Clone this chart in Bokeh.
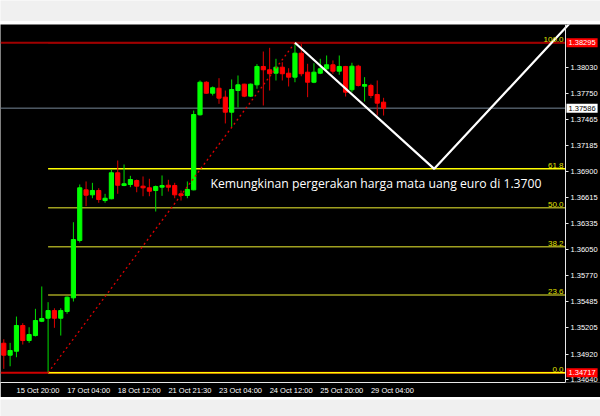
from bokeh.plotting import figure
from bokeh.models import (FixedTicker, Range1d, Label, LinearAxis, PrintfTickFormatter, ColumnDataSource)
from bokeh.layouts import column
from bokeh.embed import file_html
from bokeh.resources import INLINE

# ---------------- data (EURUSD H4) ----------------
opens = [1.35037, 1.34907, 1.34950, 1.35229, 1.35066, 1.35120, 1.35275, 1.35308, 1.35391, 1.35308,
         1.35381, 1.35529, 1.36151, 1.36700, 1.36646, 1.36693, 1.36584, 1.36603, 1.36885, 1.36747,
         1.36758, 1.36801, 1.36740, 1.36722, 1.36693, 1.36729, 1.36750, 1.36747, 1.36657, 1.36639,
         1.36700, 1.37514, 1.37867, 1.37748, 1.37802, 1.37705, 1.37542, 1.37777, 1.37846, 1.37716,
         1.37839, 1.38038, 1.38002, 1.37965, 1.38030, 1.37965, 1.37922, 1.38182, 1.37976, 1.37867,
         1.37965, 1.38013, 1.38056, 1.37987, 1.38038, 1.37785, 1.38041, 1.37824, 1.37832, 1.37734,
         1.37651]
highs = [1.35080, 1.35041, 1.35326, 1.35254, 1.35210, 1.35410, 1.35652, 1.35482, 1.35416, 1.35416,
         1.35543, 1.36349, 1.36758, 1.36791, 1.36776, 1.36718, 1.36657, 1.36921, 1.37018, 1.36975,
         1.36852, 1.36812, 1.36845, 1.36820, 1.36747, 1.36856, 1.36809, 1.36776, 1.36693, 1.36791,
         1.37560, 1.37886, 1.37878, 1.37821, 1.37911, 1.37777, 1.37897, 1.37940, 1.37850, 1.37853,
         1.38063, 1.38200, 1.38240, 1.38121, 1.38084, 1.38019, 1.38295, 1.38284, 1.38067, 1.38073,
         1.38121, 1.38157, 1.38103, 1.38157, 1.38044, 1.38078, 1.38056, 1.37922, 1.37850, 1.37886,
         1.37698]
lows = [1.34759, 1.34787, 1.34885, 1.35023, 1.35041, 1.35110, 1.35266, 1.34717, 1.35204, 1.35120,
        1.35356, 1.35489, 1.36129, 1.36523, 1.36609, 1.36560, 1.36560, 1.36598, 1.36657, 1.36740,
        1.36729, 1.36674, 1.36631, 1.36631, 1.36465, 1.36635, 1.36682, 1.36609, 1.36584, 1.36609,
        1.36695, 1.37506, 1.37742, 1.37723, 1.37633, 1.37420, 1.37382, 1.37593, 1.37705, 1.37707,
        1.37796, 1.37615, 1.37777, 1.37886, 1.37886, 1.37821, 1.37867, 1.37932, 1.37705, 1.37857,
        1.37955, 1.37987, 1.37959, 1.37948, 1.37712, 1.37759, 1.37821, 1.37658, 1.37694, 1.37506,
        1.37506]
closes = [1.34907, 1.34958, 1.35229, 1.35066, 1.35131, 1.35283, 1.35305, 1.35391, 1.35308, 1.35391,
          1.35536, 1.36161, 1.36722, 1.36642, 1.36693, 1.36595, 1.36609, 1.36885, 1.36750, 1.36766,
          1.36812, 1.36740, 1.36722, 1.36685, 1.36736, 1.36747, 1.36729, 1.36646, 1.36639, 1.36704,
          1.37517, 1.37867, 1.37748, 1.37807, 1.37694, 1.37542, 1.37788, 1.37839, 1.37716, 1.37846,
          1.38038, 1.38002, 1.37959, 1.38030, 1.37959, 1.37922, 1.38182, 1.37959, 1.37867, 1.37976,
          1.38013, 1.38056, 1.37987, 1.38038, 1.37759, 1.38041, 1.37832, 1.37842, 1.37723, 1.37640,
          1.37586]

time_tick_bars = [2, 10, 18, 26, 34, 42, 50, 58]
time_tick_labels = ["15 Oct 20:00", "17 Oct 04:00", "18 Oct 12:00", "21 Oct 21:30",
                    "23 Oct 04:00", "24 Oct 12:00", "25 Oct 20:00", "29 Oct 04:00"]
price_ticks = [1.34640, 1.34920, 1.35205, 1.35485, 1.35770, 1.36050, 1.36335,
               1.36615, 1.36900, 1.37185, 1.37465, 1.37750, 1.38030]

fib_names = ["0.0", "23.6", "38.2", "50.0", "61.8", "100.0"]
fib_prices = [1.34717, 1.35561, 1.36084, 1.36506, 1.36928, 1.38295]
fib_anchor_bar = 7

trend_bars = [7, 46]
trend_prices = [1.34717, 1.38295]

proj_bars = [46, 68, 90]
proj_prices = [1.38295, 1.36928, 1.38550]

hline_high = 1.38295
hline_low = 1.34717
bid_price = 1.37586

note_text = "Kemungkinan pergerakan harga mata uang euro di 1.3700"

# ---------------- main chart ----------------
X0, X1 = -0.52, 94.27          # frame covers the whole window width
X_AXIS = 88.74                 # where the price scale sits (MT4 style, inside the window)
Y0, Y1 = 1.34611, 1.38493
AXIS_FONT = "Liberation Sans"
AXIS_COLOR = "#e8e8e8"

p = figure(width=600, height=373, x_range=Range1d(X0, X1), y_range=Range1d(Y0, Y1),
           output_backend="svg", toolbar_location=None, y_axis_location=None,
           background_fill_color="black", border_fill_color="black",
           min_border_left=0, min_border_top=0, min_border_right=0, min_border_bottom=15)
p.outline_line_color = None
for g in p.grid:
    g.visible = False

# price axis
yax = LinearAxis(fixed_location=X_AXIS, ticker=FixedTicker(ticks=price_ticks),
                 formatter=PrintfTickFormatter(format="%.5f"))
p.add_layout(yax, "right")

# time axis (MT4 puts time labels to the right of their bar: centre them half a label further)
label_shift = 3.4
x_label_pos = [b + label_shift for b in time_tick_bars]
p.xaxis.ticker = FixedTicker(ticks=x_label_pos)
p.xaxis.major_label_overrides = {x: l for x, l in zip(x_label_pos, time_tick_labels)}
p.xaxis.bounds = (X0, X_AXIS)

for ax in (p.xaxis[0], yax):
    ax.axis_line_color = AXIS_COLOR
    ax.major_tick_line_color = AXIS_COLOR
    ax.minor_tick_line_color = None
    ax.major_tick_in = 0
    ax.major_tick_out = 3
    ax.major_label_text_color = "white"
    ax.major_label_text_font = AXIS_FONT
    ax.major_label_text_font_size = "7.5px"
    ax.major_label_standoff = 2
p.xaxis.major_tick_out = 0
p.xaxis.major_label_standoff = 3

# horizontal lines (left edge to the price scale)
p.segment(x0=[X0] * 3, x1=[X_AXIS] * 3, y0=[hline_high, hline_low, bid_price],
          y1=[hline_high, hline_low, bid_price], line_color=["#a00000", "#d00000", "#778899"],
          line_width=[2, 2, 1], level="underlay")

# fibonacci levels
fib_colors = ["#ffff00", "#a0a020", "#a0a020", "#a0a020", "#ffff00", "#a00000"]
p.segment(x0=[fib_anchor_bar] * len(fib_prices), x1=[X_AXIS] * len(fib_prices),
          y0=fib_prices, y1=fib_prices, line_color=fib_colors, line_width=1.5, level="underlay")
for name, pr in zip(fib_names, fib_prices):
    p.add_layout(Label(x=X_AXIS, y=pr, text=name, x_offset=-2, y_offset=1, text_align="right",
                       text_baseline="bottom", text_color="#e0e000", text_font=AXIS_FONT,
                       text_font_size="8px"))

# candles
bars = list(range(len(opens)))
up = [c >= o for o, c in zip(opens, closes)]
src = ColumnDataSource(dict(
    x=bars, o=opens, h=highs, l=lows, c=closes,
    top=[max(o, c) for o, c in zip(opens, closes)],
    bottom=[min(o, c) for o, c in zip(opens, closes)],
    col=["#00ff00" if u else "#ff0000" for u in up],
    wcol=["#00dd00" if u else "#e00000" for u in up],
))
p.segment(x0="x", y0="h", x1="x", y1="l", line_color="wcol", line_width=1, source=src)
p.vbar(x="x", width=0.66, top="top", bottom="bottom", fill_color="col", line_color="col", source=src)

# fib trend line (dotted red)
p.line(trend_bars, trend_prices, line_color="#e00000", line_width=1.3, line_dash="2 3")

# projection zig-zag
p.line(proj_bars, proj_prices, line_color="white", line_width=2.2)

# annotation text
p.add_layout(Label(x=32.65, y=1.36767, text=note_text, text_color="white", text_font="Open Sans",
                   text_font_size="12.2px", text_baseline="middle", text_align="left"))

# price tags on the price scale
for pr, bg, fg in [(hline_high, "#ff0000", "white"), (bid_price, "white", "black"), (hline_low, "#ff0000", "white")]:
    p.add_layout(Label(x=X_AXIS, y=pr, text=f"{pr:.5f}", x_offset=1, text_align="left",
                       text_baseline="middle", text_color=fg, text_font=AXIS_FONT,
                       text_font_size="7.5px", background_fill_color=bg, padding=2,
                       level="overlay"))


def strip(h, color):
    s = figure(width=600, height=h, output_backend="svg", toolbar_location=None,
               x_axis_type=None, y_axis_type=None, min_border=0,
               background_fill_color=color, border_fill_color=color)
    s.outline_line_color = None
    s.grid.visible = False
    return s


layout = column(strip(21, "#f0f0f0"), strip(3, "#8c8c8c"), p,
                strip(2, "#cfcfcf"), strip(17, "#f0f0f0"), spacing=0)
open("out.html", "w").write(file_html(layout, INLINE))
